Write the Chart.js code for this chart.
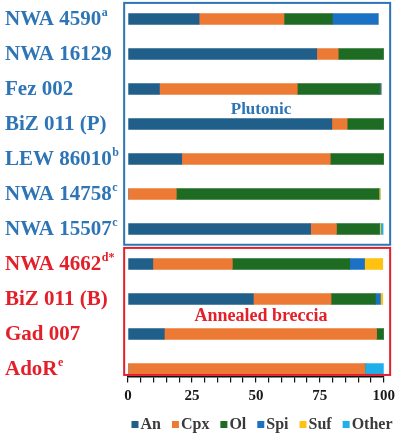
<!DOCTYPE html>
<html lang="en">
<head>
<meta charset="UTF-8" />
<title>Modal mineralogy</title>
<script src="https://cdn.jsdelivr.net/npm/chart.js"></script>
<style>
  html, body { margin: 0; padding: 0; background: #fff; }
  #wrap { width: 401px; height: 436px; }
</style>
</head>
<body>
<div id="wrap"><canvas id="modeChart"></canvas></div>
<script>
  // samples, top to bottom
  const samples = ['NWA 4590', 'NWA 16129', 'Fez 002', 'BiZ 011 (P)', 'LEW 86010', 'NWA 14758',
                   'NWA 15507', 'NWA 4662', 'BiZ 011 (B)', 'Gad 007', 'AdoR'];
  const notes = ['a', '', '', '', 'b', 'c', 'c', 'd*', '', '', 'e'];

  // vol.% of each phase
  const an    = [27.8, 73.8, 12.3, 79.7, 21.0, 0,    71.4, 9.7,  49.0, 14.2, 0];
  const cpx   = [33.2, 8.4,  53.9, 6.0,  58.1, 18.9, 10.1, 31.1, 30.4, 83.0, 92.6];
  const ol    = [18.9, 17.7, 32.1, 14.3, 20.9, 79.2, 16.8, 45.9, 17.4, 2.8,  0];
  const spi   = [17.9, 0,    0.6,  0,    0,    0,    0,    5.8,  1.9,  0,    0];
  const suf   = [0,    0,    0.3,  0,    0,    0.5,  0.5,  7.1,  0.9,  0,    0];
  const other = [0,    0,    0,    0,    0,    0,    1.0,  0,    0,    0,    7.4];

  const xTicks = [0, 25, 50, 75, 100];

  const groups = [
    { name: 'Plutonic', first: 0, last: 6 },
    { name: 'Annealed breccia', first: 7, last: 10 }
  ];

  const BLUE = '#2e75b6';
  const RED = '#e3202a';
  const SERIF = "'Liberation Serif', 'Times New Roman', serif";

  // sample names with superscripts on the left
  const sampleLabels = {
    id: 'sampleLabels',
    afterDraw(chart) {
      const ctx = chart.ctx, y = chart.scales.y;
      ctx.save();
      ctx.textBaseline = 'middle';
      ctx.textAlign = 'left';
      samples.forEach((s, i) => {
        const g = groups.findIndex(gr => i >= gr.first && i <= gr.last);
        ctx.fillStyle = g === 0 ? BLUE : RED;
        const py = y.getPixelForValue(i) + 1;
        ctx.font = 'bold 21px ' + SERIF;
        ctx.fillText(s, 5, py);
        if (notes[i]) {
          const w = ctx.measureText(s).width;
          ctx.font = 'bold 12px ' + SERIF;
          ctx.fillText(notes[i], 5 + w + 0.5, py - 7);
        }
      });
      ctx.restore();
    }
  };

  // frames around the two textural groups
  const groupBoxes = {
    id: 'groupBoxes',
    afterDraw(chart) {
      const ctx = chart.ctx, x = chart.scales.x, y = chart.scales.y;
      const colors = [BLUE, RED];
      const padBottom = [0.45, 0.17];
      const labelAt = [2.6, 8.5];
      const fontSize = [17, 18];
      ctx.save();
      groups.forEach((g, k) => {
        const left = x.getPixelForValue(-1.5), right = x.getPixelForValue(102.5);
        const top = y.getPixelForValue(g.first - 0.46), bottom = y.getPixelForValue(g.last + padBottom[k]);
        ctx.strokeStyle = colors[k];
        ctx.lineWidth = 2;
        ctx.strokeRect(left, top, right - left, bottom - top);
        ctx.fillStyle = colors[k];
        ctx.font = 'bold ' + fontSize[k] + 'px ' + SERIF;
        ctx.textAlign = 'center';
        ctx.textBaseline = 'middle';
        ctx.fillText(g.name, x.getPixelForValue(52), y.getPixelForValue(labelAt[k]));
      });
      ctx.restore();
    }
  };

  // compact legend under the axis
  const phaseLegend = {
    id: 'phaseLegend',
    afterDraw(chart) {
      const ctx = chart.ctx;
      ctx.save();
      ctx.font = 'bold 16px ' + SERIF;
      ctx.textBaseline = 'middle';
      ctx.textAlign = 'left';
      const sets = chart.data.datasets;
      const widths = sets.map(d => 7 + 2 + ctx.measureText(d.label).width);
      const total = widths.reduce((a, b) => a + b, 0) + 11 * (sets.length - 1);
      let px = 262 - total / 2;
      const py = 424;
      sets.forEach((d, i) => {
        ctx.fillStyle = d.backgroundColor;
        ctx.fillRect(px, py - 3, 7, 7);
        ctx.fillStyle = '#3a3a3a';
        ctx.fillText(d.label, px + 9, py + 1);
        px += widths[i] + 11;
      });
      ctx.restore();
    }
  };

  const phases = [
    { label: 'An', data: an, color: '#1f5f8a' },
    { label: 'Cpx', data: cpx, color: '#ec7a35' },
    { label: 'Ol', data: ol, color: '#1e6b24' },
    { label: 'Spi', data: spi, color: '#1b72c4' },
    { label: 'Suf', data: suf, color: '#ffc20e' },
    { label: 'Other', data: other, color: '#1fb0ec' }
  ];

  new Chart(document.getElementById('modeChart'), {
    type: 'bar',
    data: {
      labels: samples,
      datasets: phases.map(p => ({
        label: p.label, data: p.data, backgroundColor: p.color,
        borderWidth: 0, barThickness: 11
      }))
    },
    options: {
      indexAxis: 'y',
      responsive: true,
      maintainAspectRatio: false,
      animation: false,
      layout: { padding: { left: 120, right: 13, top: 1.5, bottom: 49.5 } },
      plugins: { legend: { display: false }, tooltip: { enabled: false } },
      scales: {
        x: {
          stacked: true,
          min: 0, max: 100,
          position: { y: 10.21 },
          grid: { display: true, drawOnChartArea: false, drawTicks: true, tickLength: 5, color: '#111', lineWidth: 1.2 },
          border: { display: true, color: '#111', width: 1.6 },
          ticks: {
            stepSize: 5, autoSkip: false, maxRotation: 0, padding: 6,
            color: '#1a1a1a', font: { family: SERIF, size: 15, weight: 'bold' },
            callback: v => xTicks.includes(v) ? v : ''
          }
        },
        y: {
          stacked: true,
          grid: { display: false },
          border: { display: false },
          ticks: { display: false }
        }
      }
    },
    plugins: [groupBoxes, sampleLabels, phaseLegend]
  });
</script>
</body>
</html>
